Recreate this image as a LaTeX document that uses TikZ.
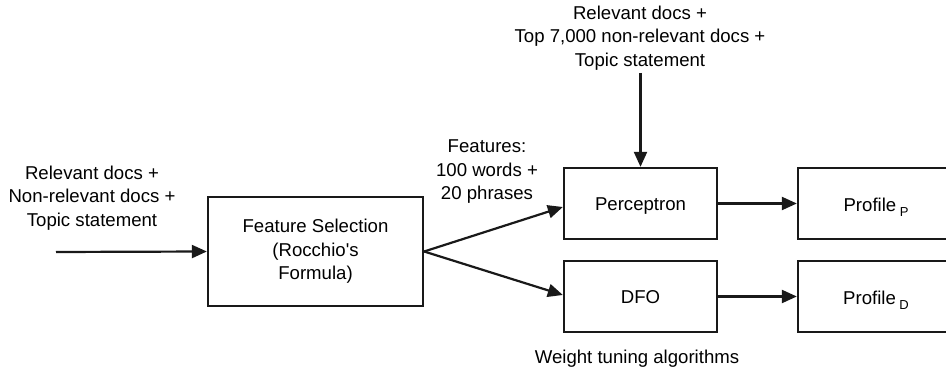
\documentclass[tikz,border=0pt]{standalone}
\usepackage{fontspec}
\setmainfont{Liberation Sans}
\usetikzlibrary{arrows.meta,calc}
\tikzset{
  box/.style={draw=black!90, line width=2.3pt, rectangle, inner sep=0pt, align=center},
  lbl/.style={align=center, inner sep=0pt},
  arr/.style={line width=2.2pt, draw=black!90, -{Triangle[length=15pt,width=13pt]}},
}
\newcommand{\subP}[1]{\hspace{3.5pt}\smash{\raisebox{-4.5pt}{\fontsize{13}{13}\selectfont #1}}}
\begin{document}
\begin{tikzpicture}[x=1pt,y=-1pt,font=\fontsize{18.6}{23.5}\selectfont]
\clip (0,0) rectangle (946,371);
\fill[white] (0,0) rectangle (946,371);
\node[box, minimum width=215pt, minimum height=109pt] (fs) at (315.5,251.5) {Feature Selection\\(Rocchio\textquotesingle s\\Formula)};
\node[box, minimum width=153pt, minimum height=71pt, text height=15pt, text depth=0pt] (perc) at (640.5,203.5) {Perceptron};
\node[box, minimum width=153pt, minimum height=71pt, text height=15pt, text depth=0pt] (dfo) at (640.5,296.5) {DFO};
\node[box, minimum width=156pt, minimum height=71pt, text height=17pt, text depth=0pt] (profp) at (876,203.5) {Profile\subP{P}};
\node[box, minimum width=156pt, minimum height=71pt, text height=17pt, text depth=0pt] (profd) at (876,296.5) {Profile\subP{D}};
\coordinate (inl) at (56,252);
\coordinate (intop) at (640.5,73);
\node[lbl] (leftlbl) at (92,198) {Relevant docs +\\Non-relevant docs +\\Topic statement};
\node[lbl] (toplbl) at (640,38) {Relevant docs +\\Top 7,000 non-relevant docs +\\Topic statement};
\node[lbl] (featlbl) at (487,172) {Features:\\100 words +\\20 phrases};
\node[lbl] (wlbl) at (637,359) {Weight tuning algorithms};
\draw[arr] (inl) -- (fs.west);
\draw[arr] (intop) -- (perc.north);
\draw[arr] (fs.east) -- ([yshift=-3.5pt]perc.west);
\draw[arr] (fs.east) -- ([yshift=1.5pt]dfo.west);
\draw[arr] (perc.east) -- (profp.west);
\draw[arr] (dfo.east) -- (profd.west);
\end{tikzpicture}
\end{document}
